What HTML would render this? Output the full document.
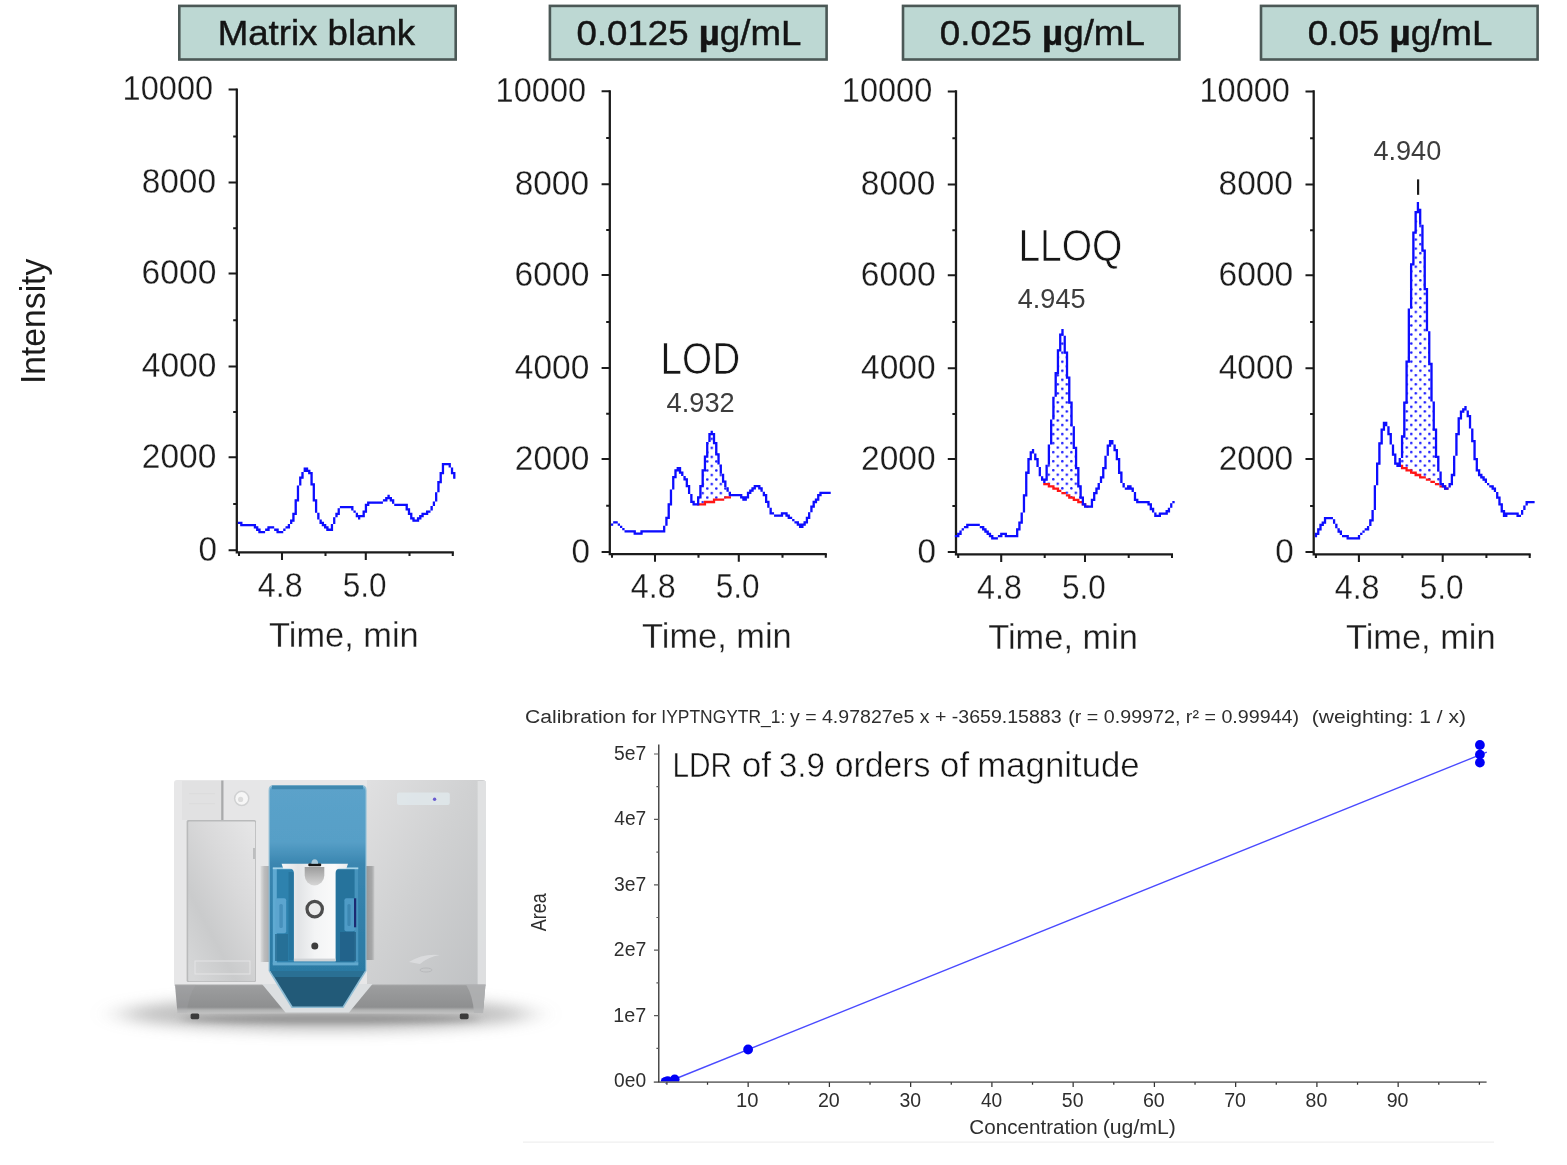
<!DOCTYPE html>
<html lang="en"><head><meta charset="utf-8"><title>LOD / LLOQ chromatograms and calibration curve</title>
<style>
html,body{margin:0;padding:0;background:#fff;}
body{width:1567px;height:1165px;overflow:hidden;}
svg{display:block;font-family:"Liberation Sans",sans-serif;}
svg text{white-space:pre;}
</style></head><body>
<svg width="1567" height="1165" viewBox="0 0 1567 1165">
<rect width="1567" height="1165" fill="#ffffff"/>
<defs>
<filter id="blur12" x="-30%" y="-150%" width="160%" height="400%"><feGaussianBlur stdDeviation="16 7"/></filter>
<filter id="blur4" x="-20%" y="-200%" width="140%" height="500%"><feGaussianBlur stdDeviation="6 3"/></filter>
<filter id="blur2" x="-30%" y="-30%" width="160%" height="160%"><feGaussianBlur stdDeviation="2.2"/></filter>
<filter id="blur1" x="-30%" y="-30%" width="160%" height="160%"><feGaussianBlur stdDeviation="0.8"/></filter>
<linearGradient id="gRight" x1="0" y1="0" x2="1" y2="1"><stop offset="0" stop-color="#e0e0e1"/><stop offset="0.45" stop-color="#d0d1d2"/><stop offset="1" stop-color="#bfc1c3"/></linearGradient>
<linearGradient id="gLeft" x1="0" y1="0" x2="0" y2="1"><stop offset="0" stop-color="#ececec"/><stop offset="1" stop-color="#e2e2e3"/></linearGradient>
<linearGradient id="gDoor" x1="0.9" y1="0" x2="0.1" y2="1"><stop offset="0" stop-color="#e5e5e6"/><stop offset="0.35" stop-color="#d9d9da"/><stop offset="0.7" stop-color="#cacbcc"/><stop offset="1" stop-color="#d6d7d8"/></linearGradient>
<linearGradient id="gBlue" x1="0" y1="0" x2="0" y2="1"><stop offset="0" stop-color="#5ba2ca"/><stop offset="0.3" stop-color="#579fc7"/><stop offset="0.42" stop-color="#3a86b0"/><stop offset="0.8" stop-color="#2f7ea8"/><stop offset="1" stop-color="#2c7aa3"/></linearGradient>
<linearGradient id="gBase" x1="0" y1="0" x2="0" y2="1"><stop offset="0" stop-color="#a8a9aa"/><stop offset="0.06" stop-color="#9c9d9e"/><stop offset="0.78" stop-color="#8e8f90"/><stop offset="0.88" stop-color="#b2b3b3"/><stop offset="1" stop-color="#c2c2c2"/></linearGradient>
<linearGradient id="gSrc" x1="0" y1="0" x2="1" y2="0"><stop offset="0" stop-color="#f4f5f6"/><stop offset="0.25" stop-color="#e2e4e6"/><stop offset="0.5" stop-color="#f3f4f5"/><stop offset="0.8" stop-color="#fafafa"/><stop offset="1" stop-color="#e8eaec"/></linearGradient>
<linearGradient id="gKnob" x1="0" y1="0" x2="0" y2="1"><stop offset="0" stop-color="#9c9c9c"/><stop offset="1" stop-color="#d6d6d6"/></linearGradient>
<linearGradient id="gShR" x1="0" y1="0" x2="1" y2="0"><stop offset="0" stop-color="#8f9091"/><stop offset="0.75" stop-color="#a7a8a9"/><stop offset="1" stop-color="#c9cacb"/></linearGradient>
<linearGradient id="gShL" x1="0" y1="0" x2="1" y2="0"><stop offset="0" stop-color="#dcdddd"/><stop offset="0.4" stop-color="#bcbdbe"/><stop offset="1" stop-color="#a9aaab"/></linearGradient>
<filter id="soft" x="-5%" y="-5%" width="110%" height="110%"><feGaussianBlur stdDeviation="0.55"/></filter>
</defs>
<g>
<!-- floor shadow -->
<ellipse cx="326" cy="1014" rx="205" ry="17" fill="#a3a3a3" opacity="0.68" filter="url(#blur12)"/>
<ellipse cx="330" cy="1019" rx="150" ry="4.5" fill="#787878" opacity="0.62" filter="url(#blur4)"/>
<g filter="url(#soft)">
<!-- body -->
<path d="M174 783Q174 780 177 780H482Q486 780 486 783V986H174Z" fill="#e7e7e8"/>
<rect x="182" y="781" width="39.5" height="39" fill="#e1e1e2"/>
<rect x="223.5" y="781" width="36.5" height="39" fill="#e6e6e7"/>
<rect x="260" y="781" width="9" height="205" fill="#e6e7e8"/>
<rect x="221.2" y="780.5" width="2.3" height="39.5" fill="#a9aaab"/>
<!-- lines in upper-left panel -->
<rect x="189" y="793" width="26" height="1.2" fill="#dcdcdd"/><rect x="189" y="803" width="26" height="1.2" fill="#dcdcdd"/>
<!-- round badge -->
<circle cx="241.7" cy="798.4" r="7.8" fill="#d0d1d2"/><circle cx="241.7" cy="798.4" r="6.3" fill="#f6f6f6"/><circle cx="240.6" cy="799.4" r="2.6" fill="#dcdcdc"/>
<!-- door -->
<rect x="186.6" y="820" width="69.4" height="162" rx="1.5" fill="#b9babb"/>
<rect x="188.2" y="821.6" width="67" height="159.6" rx="1.2" fill="url(#gDoor)"/>
<rect x="253.2" y="848" width="1.6" height="11" fill="#b4b5b6"/>
<rect x="195" y="961" width="55" height="13" fill="none" stroke="#e4e4e5" stroke-width="1"/>
<!-- right panel -->
<path d="M367 780H482Q486 780 486 783V986H367Z" fill="url(#gRight)"/>
<rect x="477.6" y="781" width="8.4" height="205" fill="#e3e4e5" opacity="0.85"/>
<rect x="397" y="792.6" width="52.8" height="12.4" rx="2" fill="#dfe7eb" opacity="0.85"/>
<circle cx="434.6" cy="799.3" r="1.7" fill="#6a5bd0"/>
<!-- shadow beside blue panel -->
<rect x="364" y="866" width="10.5" height="94" fill="url(#gShR)"/>
<rect x="260.5" y="866" width="9.5" height="96" fill="url(#gShL)"/>
<!-- logo hint -->
<path d="M409 962q14 -9 31 -7q-12 2 -20 9z" fill="#dcdddf" opacity="0.9"/>
<ellipse cx="426" cy="970" rx="6" ry="2" fill="none" stroke="#b4b5b7" stroke-width="0.8"/>
<!-- base -->
<path d="M175 984.5H485.5L483 1013.5H177.5Z" fill="url(#gBase)"/>
<path d="M175 984.5H196Q188 996 187 1013H177.5Z" fill="#b3b4b5" opacity="0.18"/><path d="M485.5 984.5H466Q473 996 474 1013H483Z" fill="#b3b4b5" opacity="0.8"/>
<!-- feet -->
<rect x="190.6" y="1013.4" width="8.6" height="5.8" rx="1.6" fill="#3a3a3a"/><rect x="459.8" y="1013.4" width="8.8" height="5.8" rx="1.6" fill="#3a3a3a"/>
<!-- blue centre -->
<path d="M262 984L285.5 1012.5H349L372.5 984Z" fill="#dcdfe1"/>
<path d="M268.6 790Q268.6 785 273.6 785H361Q366.6 785 366.6 790V971L343.5 1008H291.5L268.6 971Z" fill="#8fbdd4"/>
<path d="M269.8 791Q269.8 786.2 274.6 786.2H360Q365.4 786.2 365.4 791V971H269.8Z" fill="url(#gBlue)"/>
<rect x="272" y="785.6" width="91" height="3.6" fill="#3f89b0"/>
<path d="M270.6 971H364.6L342.6 1006.5H292.6Z" fill="#235a78"/>
<path d="M270.6 971H364.6L361 977H274.2Z" fill="#2e79a0" opacity="0.7"/>
<!-- source housing -->
<rect x="272.8" y="867.8" width="85.5" height="96.6" fill="#2e82ae"/>
<rect x="335.6" y="867.8" width="22.7" height="96.6" fill="#27739c"/>
<rect x="272.8" y="867.8" width="4" height="96.6" fill="#5eaad2"/>
<rect x="354.6" y="867.8" width="3.7" height="96.6" fill="#4f9cc6" opacity="0.8"/>
<rect x="272.8" y="867.4" width="85.5" height="1.8" fill="#a5d3e8"/>
<rect x="272.8" y="962.4" width="85.5" height="3" fill="#62a9cd"/>
<rect x="275.4" y="898.3" width="10.8" height="35" rx="2" fill="#5ba5cf"/><rect x="279.4" y="904" width="3.4" height="24" rx="1.5" fill="#4690bb"/>
<rect x="344.4" y="898.3" width="10.8" height="33" rx="2" fill="#4f9bc6"/><rect x="347.4" y="904" width="3.2" height="22" rx="1.5" fill="#3d87b2"/>
<path d="M275 934h13v27h-13z" fill="#24698f" opacity="0.75"/><path d="M340 932h16v29h-16z" fill="#215f85" opacity="0.75"/>
<rect x="354" y="898.3" width="2.2" height="29" fill="#1a2a72"/>
<rect x="288.5" y="872" width="6" height="88" fill="#1f6a93" opacity="0.55"/>
<path d="M281.6 863.8H348L346.4 868.4H340Q335.6 868.6 335.6 873V961.2H293.9V873Q293.9 868.6 289.5 868.4H283.2Z" fill="url(#gSrc)"/>
<rect x="293.9" y="958.6" width="41.7" height="2.6" fill="#cfd3d6"/>
<path d="M304.7 867h19.6v8.6a9.8 9.8 0 0 1 -19.6 0z" fill="url(#gKnob)"/>
<rect x="308.3" y="863.6" width="12.9" height="2.7" rx="1" fill="#141414"/>
<path d="M311.4 863.8q0 -4.6 3.3 -4.6q3.4 0 3.4 4.6z" fill="#a9c9da"/>
<circle cx="314.7" cy="909.1" r="7.7" fill="#ececec" stroke="#4d4d4d" stroke-width="3.2"/>
<circle cx="314.8" cy="946.1" r="3.5" fill="#3c3c3c"/>
</g>
</g>

<rect x="179.30" y="5.90" width="276.40" height="53.60" fill="#bdd8d3" stroke="#4b5856" stroke-width="2.6"/>
<text transform="translate(217.69 45.40) scale(1.0501 1)" font-size="34.90" fill="#141414" stroke="#141414" stroke-width="0.45">Matrix blank</text>
<rect x="549.90" y="5.90" width="276.70" height="53.60" fill="#bdd8d3" stroke="#4b5856" stroke-width="2.6"/>
<text transform="translate(576.57 45.40) scale(1.0495 1)" font-size="34.90" fill="#141414" stroke="#141414" stroke-width="0.45">0.0125 <tspan font-weight="700">µ</tspan>g/mL</text>
<rect x="903.00" y="5.90" width="276.40" height="53.60" fill="#bdd8d3" stroke="#4b5856" stroke-width="2.6"/>
<text transform="translate(939.86 45.40) scale(1.0530 1)" font-size="34.90" fill="#141414" stroke="#141414" stroke-width="0.45">0.025 <tspan font-weight="700">µ</tspan>g/mL</text>
<rect x="1261.00" y="5.90" width="276.60" height="53.60" fill="#bdd8d3" stroke="#4b5856" stroke-width="2.6"/>
<text transform="translate(1307.76 45.40) scale(1.0533 1)" font-size="34.90" fill="#141414" stroke="#141414" stroke-width="0.45">0.05 <tspan font-weight="700">µ</tspan>g/mL</text>
<defs><filter id="px" x="-2%" y="-2%" width="104%" height="104%"><feGaussianBlur stdDeviation="0.5"/></filter><filter id="sf" x="-2%" y="-2%" width="104%" height="104%"><feGaussianBlur stdDeviation="0.4"/></filter>
<pattern id="dots1" x="710.51" y="446.65" width="9.04" height="9.04" patternUnits="userSpaceOnUse"><circle cx="1.25" cy="1.25" r="1.25" fill="#1414ff"/><circle cx="5.77" cy="5.77" r="1.25" fill="#1414ff"/></pattern>
<pattern id="dots2" x="1061.05" y="351.45" width="9.04" height="9.04" patternUnits="userSpaceOnUse"><circle cx="1.25" cy="1.25" r="1.25" fill="#1414ff"/><circle cx="5.77" cy="5.77" r="1.25" fill="#1414ff"/></pattern>
<pattern id="dots3" x="1414.55" y="346.85" width="9.04" height="9.04" patternUnits="userSpaceOnUse"><circle cx="1.25" cy="1.25" r="1.25" fill="#1414ff"/><circle cx="5.77" cy="5.77" r="1.25" fill="#1414ff"/></pattern>
</defs>
<g filter="url(#sf)"><path d="M236.80 88.47V552.40H453.80" fill="none" stroke="#1a1a1a" stroke-width="2.26"/><path d="M228.60 89.60H236.80M233.20 136.40H236.80M228.60 182.60H236.80M233.20 228.30H236.80M228.60 273.40H236.80M233.20 320.20H236.80M228.60 366.40H236.80M233.20 412.10H236.80M228.60 457.20H236.80M233.20 504.00H236.80M228.60 550.20H236.80M239.00 552.40V556.00M282.00 552.40V560.00M325.50 552.40V556.00M365.80 552.40V560.00M409.50 552.40V556.00M452.80 552.40V556.00" fill="none" stroke="#1a1a1a" stroke-width="2.03"/><text transform="translate(122.62 100.20) scale(0.9214 1)" font-size="35.30" fill="#1c1c1c" stroke="#fff" stroke-width="0.3">10000</text><text transform="translate(141.65 193.20) scale(0.9482 1)" font-size="35.30" fill="#1c1c1c" stroke="#fff" stroke-width="0.3">8000</text><text transform="translate(141.59 284.00) scale(0.9528 1)" font-size="35.30" fill="#1c1c1c" stroke="#fff" stroke-width="0.3">6000</text><text transform="translate(141.83 377.00) scale(0.9497 1)" font-size="35.30" fill="#1c1c1c" stroke="#fff" stroke-width="0.3">4000</text><text transform="translate(141.81 467.80) scale(0.9499 1)" font-size="35.30" fill="#1c1c1c" stroke="#fff" stroke-width="0.3">2000</text><text transform="translate(198.40 560.80) scale(0.9423 1)" font-size="35.30" fill="#1c1c1c" stroke="#fff" stroke-width="0.3">0</text><text transform="translate(257.76 596.70) scale(0.9159 1)" font-size="35.30" fill="#1c1c1c" stroke="#fff" stroke-width="0.3">4.8</text><text transform="translate(342.84 596.70) scale(0.8924 1)" font-size="35.30" fill="#1c1c1c" stroke="#fff" stroke-width="0.3">5.0</text><text transform="translate(269.03 646.70) scale(0.9802 1)" font-size="35.10" fill="#1c1c1c" stroke="#fff" stroke-width="0.3">Time, min</text><path d="M237.93 521.82h2.27v2.27h-2.27zM240.20 521.82h2.27v4.53h-2.27zM242.46 524.08h2.27v2.27h-2.27zM244.73 524.08h2.27v2.27h-2.27zM246.99 524.08h2.27v2.27h-2.27zM249.26 524.08h2.27v2.27h-2.27zM251.53 524.08h2.27v2.27h-2.27zM253.79 524.08h2.27v4.53h-2.27zM256.06 526.35h2.27v4.53h-2.27zM258.32 528.61h2.27v4.53h-2.27zM260.59 530.88h2.27v2.27h-2.27zM262.85 530.88h2.27v2.27h-2.27zM265.12 528.61h2.27v2.27h-2.27zM267.38 526.35h2.27v4.53h-2.27zM269.65 526.35h2.27v2.27h-2.27zM271.92 526.35h2.27v2.27h-2.27zM274.18 528.61h2.27v2.27h-2.27zM276.45 528.61h2.27v4.53h-2.27zM278.71 530.88h2.27v2.27h-2.27zM280.98 530.88h2.27v2.27h-2.27zM283.24 528.61h2.27v2.27h-2.27zM285.51 526.35h2.27v2.27h-2.27zM287.77 524.08h2.27v4.53h-2.27zM290.04 519.55h2.27v4.53h-2.27zM292.30 512.75h2.27v9.06h-2.27zM294.57 499.16h2.27v15.86h-2.27zM296.84 485.57h2.27v15.86h-2.27zM299.10 476.51h2.27v9.06h-2.27zM301.37 471.97h2.27v6.80h-2.27zM303.63 467.44h2.27v4.53h-2.27zM305.90 467.44h2.27v4.53h-2.27zM308.16 469.71h2.27v4.53h-2.27zM310.43 471.97h2.27v13.59h-2.27zM312.69 483.30h2.27v18.12h-2.27zM314.96 499.16h2.27v13.59h-2.27zM317.23 512.75h2.27v6.80h-2.27zM319.49 519.55h2.27v4.53h-2.27zM321.76 521.82h2.27v4.53h-2.27zM324.02 524.08h2.27v4.53h-2.27zM326.29 526.35h2.27v4.53h-2.27zM328.55 528.61h2.27v2.27h-2.27zM330.82 524.08h2.27v6.80h-2.27zM333.08 517.28h2.27v6.80h-2.27zM335.35 512.75h2.27v4.53h-2.27zM337.61 508.22h2.27v6.80h-2.27zM339.88 505.96h2.27v2.27h-2.27zM342.15 505.96h2.27v2.27h-2.27zM344.41 505.96h2.27v2.27h-2.27zM346.68 505.96h2.27v2.27h-2.27zM348.94 505.96h2.27v2.27h-2.27zM351.21 505.96h2.27v4.53h-2.27zM353.47 510.49h2.27v2.27h-2.27zM355.74 512.75h2.27v4.53h-2.27zM358.00 515.02h2.27v4.53h-2.27zM360.27 515.02h2.27v2.27h-2.27zM362.54 510.49h2.27v6.80h-2.27zM364.80 503.69h2.27v9.06h-2.27zM367.07 501.43h2.27v4.53h-2.27zM369.33 501.43h2.27v2.27h-2.27zM371.60 501.43h2.27v2.27h-2.27zM373.86 501.43h2.27v2.27h-2.27zM376.13 501.43h2.27v2.27h-2.27zM378.39 501.43h2.27v2.27h-2.27zM380.66 501.43h2.27v2.27h-2.27zM382.92 499.16h2.27v2.27h-2.27zM385.19 496.90h2.27v4.53h-2.27zM387.46 494.63h2.27v4.53h-2.27zM389.72 496.90h2.27v4.53h-2.27zM391.99 499.16h2.27v4.53h-2.27zM394.25 503.69h2.27v2.27h-2.27zM396.52 503.69h2.27v2.27h-2.27zM398.78 503.69h2.27v2.27h-2.27zM401.05 503.69h2.27v2.27h-2.27zM403.31 503.69h2.27v2.27h-2.27zM405.58 503.69h2.27v6.80h-2.27zM407.85 508.22h2.27v6.80h-2.27zM410.11 512.75h2.27v6.80h-2.27zM412.38 517.28h2.27v4.53h-2.27zM414.64 519.55h2.27v2.27h-2.27zM416.91 517.28h2.27v4.53h-2.27zM419.17 515.02h2.27v4.53h-2.27zM421.44 512.75h2.27v4.53h-2.27zM423.70 512.75h2.27v2.27h-2.27zM425.97 510.49h2.27v4.53h-2.27zM428.23 510.49h2.27v2.27h-2.27zM430.50 505.96h2.27v4.53h-2.27zM432.77 501.43h2.27v4.53h-2.27zM435.03 492.36h2.27v9.06h-2.27zM437.30 481.04h2.27v11.33h-2.27zM439.56 471.97h2.27v11.33h-2.27zM441.83 462.91h2.27v11.33h-2.27zM444.09 462.91h2.27v2.27h-2.27zM446.36 462.91h2.27v2.27h-2.27zM448.62 462.91h2.27v4.53h-2.27zM450.89 467.44h2.27v6.80h-2.27zM453.16 471.97h2.27v6.80h-2.27z" fill="#0808ff"/></g>
<g filter="url(#sf)"><path d="M609.80 90.17V554.10H826.80" fill="none" stroke="#1a1a1a" stroke-width="2.26"/><path d="M601.60 91.30H609.80M606.20 138.10H609.80M601.60 184.30H609.80M606.20 230.00H609.80M601.60 275.10H609.80M606.20 321.90H609.80M601.60 368.10H609.80M606.20 413.80H609.80M601.60 458.90H609.80M606.20 505.70H609.80M601.60 551.90H609.80M612.00 554.10V557.70M655.00 554.10V561.70M698.50 554.10V557.70M738.80 554.10V561.70M782.50 554.10V557.70M825.80 554.10V557.70" fill="none" stroke="#1a1a1a" stroke-width="2.03"/><text transform="translate(495.62 101.90) scale(0.9214 1)" font-size="35.30" fill="#1c1c1c" stroke="#fff" stroke-width="0.3">10000</text><text transform="translate(514.65 194.90) scale(0.9482 1)" font-size="35.30" fill="#1c1c1c" stroke="#fff" stroke-width="0.3">8000</text><text transform="translate(514.59 285.70) scale(0.9528 1)" font-size="35.30" fill="#1c1c1c" stroke="#fff" stroke-width="0.3">6000</text><text transform="translate(514.83 378.70) scale(0.9497 1)" font-size="35.30" fill="#1c1c1c" stroke="#fff" stroke-width="0.3">4000</text><text transform="translate(514.81 469.50) scale(0.9499 1)" font-size="35.30" fill="#1c1c1c" stroke="#fff" stroke-width="0.3">2000</text><text transform="translate(571.40 562.50) scale(0.9423 1)" font-size="35.30" fill="#1c1c1c" stroke="#fff" stroke-width="0.3">0</text><text transform="translate(630.76 598.40) scale(0.9159 1)" font-size="35.30" fill="#1c1c1c" stroke="#fff" stroke-width="0.3">4.8</text><text transform="translate(715.84 598.40) scale(0.8924 1)" font-size="35.30" fill="#1c1c1c" stroke="#fff" stroke-width="0.3">5.0</text><text transform="translate(642.03 648.40) scale(0.9802 1)" font-size="35.10" fill="#1c1c1c" stroke="#fff" stroke-width="0.3">Time, min</text><polygon points="697.2,504.6 697.3,504.4 699.5,497.0 701.6,486.0 703.7,472.0 706.2,456.0 708.2,442.0 710.0,435.0 711.8,431.0 714.3,438.0 716.5,450.0 718.6,460.0 721.0,470.0 723.3,477.5 725.5,485.0 727.6,490.0 730.0,497.4" fill="url(#dots1)"/><path d="M697.02 503.13h2.27v2.27h-2.27zM699.29 503.13h2.27v2.27h-2.27zM701.55 503.13h2.27v2.27h-2.27zM703.82 500.86h2.27v4.53h-2.27zM706.08 500.86h2.27v2.27h-2.27zM708.35 500.86h2.27v2.27h-2.27zM710.61 500.86h2.27v2.27h-2.27zM712.88 498.60h2.27v4.53h-2.27zM715.15 498.60h2.27v2.27h-2.27zM717.41 498.60h2.27v2.27h-2.27zM719.68 498.60h2.27v2.27h-2.27zM721.94 498.60h2.27v2.27h-2.27zM724.21 496.33h2.27v2.27h-2.27zM726.47 496.33h2.27v2.27h-2.27zM728.74 496.33h2.27v2.27h-2.27z" fill="#ff1414"/><path d="M610.93 523.52h2.27v2.27h-2.27zM613.20 521.25h2.27v2.27h-2.27zM615.46 521.25h2.27v2.27h-2.27zM617.73 523.52h2.27v2.27h-2.27zM619.99 525.78h2.27v2.27h-2.27zM622.26 528.05h2.27v2.27h-2.27zM624.53 530.31h2.27v2.27h-2.27zM626.79 530.31h2.27v2.27h-2.27zM629.06 530.31h2.27v2.27h-2.27zM631.32 530.31h2.27v2.27h-2.27zM633.59 530.31h2.27v4.53h-2.27zM635.85 532.58h2.27v2.27h-2.27zM638.12 532.58h2.27v2.27h-2.27zM640.38 530.31h2.27v4.53h-2.27zM642.65 530.31h2.27v2.27h-2.27zM644.92 530.31h2.27v2.27h-2.27zM647.18 530.31h2.27v2.27h-2.27zM649.45 530.31h2.27v2.27h-2.27zM651.71 530.31h2.27v2.27h-2.27zM653.98 530.31h2.27v2.27h-2.27zM656.24 530.31h2.27v2.27h-2.27zM658.51 530.31h2.27v2.27h-2.27zM660.77 530.31h2.27v2.27h-2.27zM663.04 525.78h2.27v6.80h-2.27zM665.30 516.72h2.27v9.06h-2.27zM667.57 503.13h2.27v15.86h-2.27zM669.84 489.53h2.27v15.86h-2.27zM672.10 475.94h2.27v13.59h-2.27zM674.37 469.14h2.27v9.06h-2.27zM676.63 466.88h2.27v4.53h-2.27zM678.90 466.88h2.27v6.80h-2.27zM681.16 471.41h2.27v4.53h-2.27zM683.43 475.94h2.27v4.53h-2.27zM685.69 478.21h2.27v9.06h-2.27zM687.96 485.00h2.27v9.06h-2.27zM690.23 494.06h2.27v9.06h-2.27zM692.49 500.86h2.27v4.53h-2.27zM694.76 503.13h2.27v2.27h-2.27zM697.02 496.33h2.27v9.06h-2.27zM699.29 485.00h2.27v13.59h-2.27zM701.55 469.14h2.27v18.12h-2.27zM703.82 455.55h2.27v15.86h-2.27zM706.08 441.96h2.27v15.86h-2.27zM708.35 432.90h2.27v9.06h-2.27zM710.61 430.63h2.27v4.53h-2.27zM712.88 432.90h2.27v11.33h-2.27zM715.15 441.96h2.27v13.59h-2.27zM717.41 453.29h2.27v11.33h-2.27zM719.68 464.61h2.27v9.06h-2.27zM721.94 473.67h2.27v9.06h-2.27zM724.21 480.47h2.27v6.80h-2.27zM726.47 487.27h2.27v4.53h-2.27zM728.74 491.80h2.27v4.53h-2.27zM731.00 494.06h2.27v2.27h-2.27zM733.27 494.06h2.27v2.27h-2.27zM735.54 494.06h2.27v2.27h-2.27zM737.80 494.06h2.27v2.27h-2.27zM740.07 494.06h2.27v4.53h-2.27zM742.33 496.33h2.27v4.53h-2.27zM744.60 496.33h2.27v4.53h-2.27zM746.86 491.80h2.27v6.80h-2.27zM749.13 489.53h2.27v4.53h-2.27zM751.39 487.27h2.27v4.53h-2.27zM753.66 485.00h2.27v4.53h-2.27zM755.92 485.00h2.27v2.27h-2.27zM758.19 485.00h2.27v4.53h-2.27zM760.46 487.27h2.27v4.53h-2.27zM762.72 491.80h2.27v4.53h-2.27zM764.99 494.06h2.27v9.06h-2.27zM767.25 500.86h2.27v6.80h-2.27zM769.52 507.66h2.27v6.80h-2.27zM771.78 512.19h2.27v2.27h-2.27zM774.05 514.45h2.27v2.27h-2.27zM776.31 514.45h2.27v2.27h-2.27zM778.58 514.45h2.27v2.27h-2.27zM780.85 512.19h2.27v4.53h-2.27zM783.11 512.19h2.27v2.27h-2.27zM785.38 512.19h2.27v4.53h-2.27zM787.64 514.45h2.27v4.53h-2.27zM789.91 516.72h2.27v2.27h-2.27zM792.17 518.98h2.27v2.27h-2.27zM794.44 521.25h2.27v2.27h-2.27zM796.70 521.25h2.27v4.53h-2.27zM798.97 523.52h2.27v4.53h-2.27zM801.23 523.52h2.27v4.53h-2.27zM803.50 521.25h2.27v4.53h-2.27zM805.77 516.72h2.27v6.80h-2.27zM808.03 512.19h2.27v6.80h-2.27zM810.30 505.39h2.27v6.80h-2.27zM812.56 500.86h2.27v6.80h-2.27zM814.83 498.60h2.27v4.53h-2.27zM817.09 494.06h2.27v6.80h-2.27zM819.36 491.80h2.27v4.53h-2.27zM821.62 491.80h2.27v2.27h-2.27zM823.89 491.80h2.27v2.27h-2.27zM826.16 491.80h2.27v2.27h-2.27zM828.42 491.80h2.27v2.27h-2.27z" fill="#0808ff"/></g>
<g filter="url(#sf)"><path d="M956.00 90.37V554.30H1173.00" fill="none" stroke="#1a1a1a" stroke-width="2.26"/><path d="M947.80 91.50H956.00M952.40 138.30H956.00M947.80 184.50H956.00M952.40 230.20H956.00M947.80 275.30H956.00M952.40 322.10H956.00M947.80 368.30H956.00M952.40 414.00H956.00M947.80 459.10H956.00M952.40 505.90H956.00M947.80 552.10H956.00M958.20 554.30V557.90M1001.20 554.30V561.90M1044.70 554.30V557.90M1085.00 554.30V561.90M1128.70 554.30V557.90M1172.00 554.30V557.90" fill="none" stroke="#1a1a1a" stroke-width="2.03"/><text transform="translate(841.82 102.10) scale(0.9214 1)" font-size="35.30" fill="#1c1c1c" stroke="#fff" stroke-width="0.3">10000</text><text transform="translate(860.85 195.10) scale(0.9482 1)" font-size="35.30" fill="#1c1c1c" stroke="#fff" stroke-width="0.3">8000</text><text transform="translate(860.79 285.90) scale(0.9528 1)" font-size="35.30" fill="#1c1c1c" stroke="#fff" stroke-width="0.3">6000</text><text transform="translate(861.03 378.90) scale(0.9497 1)" font-size="35.30" fill="#1c1c1c" stroke="#fff" stroke-width="0.3">4000</text><text transform="translate(861.01 469.70) scale(0.9499 1)" font-size="35.30" fill="#1c1c1c" stroke="#fff" stroke-width="0.3">2000</text><text transform="translate(917.60 562.70) scale(0.9423 1)" font-size="35.30" fill="#1c1c1c" stroke="#fff" stroke-width="0.3">0</text><text transform="translate(976.96 598.60) scale(0.9159 1)" font-size="35.30" fill="#1c1c1c" stroke="#fff" stroke-width="0.3">4.8</text><text transform="translate(1062.04 598.60) scale(0.8924 1)" font-size="35.30" fill="#1c1c1c" stroke="#fff" stroke-width="0.3">5.0</text><text transform="translate(988.23 648.60) scale(0.9802 1)" font-size="35.10" fill="#1c1c1c" stroke="#fff" stroke-width="0.3">Time, min</text><polygon points="1045.4,483.2 1045.7,479.6 1048.8,456.7 1051.1,433.7 1053.0,412.0 1055.4,389.0 1057.8,362.0 1060.1,341.0 1062.3,328.9 1064.9,342.0 1066.9,363.0 1069.3,392.0 1071.7,414.0 1073.3,433.7 1077.9,475.0 1081.0,496.5 1084.0,504.0 1086.4,505.6" fill="url(#dots2)"/><path d="M1043.22 482.94h2.27v2.27h-2.27zM1045.49 482.94h2.27v2.27h-2.27zM1047.75 482.94h2.27v4.53h-2.27zM1050.02 485.20h2.27v2.27h-2.27zM1052.28 485.20h2.27v4.53h-2.27zM1054.55 487.47h2.27v2.27h-2.27zM1056.81 487.47h2.27v4.53h-2.27zM1059.08 489.73h2.27v2.27h-2.27zM1061.35 492.00h2.27v2.27h-2.27zM1063.61 492.00h2.27v2.27h-2.27zM1065.88 494.26h2.27v2.27h-2.27zM1068.14 494.26h2.27v4.53h-2.27zM1070.41 496.53h2.27v2.27h-2.27zM1072.67 496.53h2.27v4.53h-2.27zM1074.94 498.80h2.27v2.27h-2.27zM1077.20 498.80h2.27v4.53h-2.27zM1079.47 501.06h2.27v2.27h-2.27zM1081.74 501.06h2.27v4.53h-2.27zM1084.00 503.33h2.27v2.27h-2.27zM1086.27 505.59h2.27v2.27h-2.27z" fill="#ff1414"/><path d="M954.87 535.04h2.27v2.27h-2.27zM957.13 532.78h2.27v4.53h-2.27zM959.40 530.51h2.27v4.53h-2.27zM961.66 528.25h2.27v2.27h-2.27zM963.93 525.98h2.27v2.27h-2.27zM966.19 523.72h2.27v4.53h-2.27zM968.46 523.72h2.27v2.27h-2.27zM970.73 523.72h2.27v2.27h-2.27zM972.99 523.72h2.27v2.27h-2.27zM975.26 523.72h2.27v2.27h-2.27zM977.52 523.72h2.27v2.27h-2.27zM979.79 525.98h2.27v2.27h-2.27zM982.05 525.98h2.27v4.53h-2.27zM984.32 528.25h2.27v4.53h-2.27zM986.58 530.51h2.27v4.53h-2.27zM988.85 532.78h2.27v4.53h-2.27zM991.12 535.04h2.27v4.53h-2.27zM993.38 537.31h2.27v2.27h-2.27zM995.65 537.31h2.27v2.27h-2.27zM997.91 535.04h2.27v2.27h-2.27zM1000.18 532.78h2.27v4.53h-2.27zM1002.44 532.78h2.27v2.27h-2.27zM1004.71 532.78h2.27v4.53h-2.27zM1006.97 535.04h2.27v2.27h-2.27zM1009.24 535.04h2.27v2.27h-2.27zM1011.50 535.04h2.27v2.27h-2.27zM1013.77 535.04h2.27v2.27h-2.27zM1016.04 528.25h2.27v9.06h-2.27zM1018.30 521.45h2.27v9.06h-2.27zM1020.57 512.39h2.27v11.33h-2.27zM1022.83 494.26h2.27v18.12h-2.27zM1025.10 471.61h2.27v24.92h-2.27zM1027.36 458.02h2.27v15.86h-2.27zM1029.63 451.22h2.27v9.06h-2.27zM1031.89 448.95h2.27v4.53h-2.27zM1034.16 453.49h2.27v6.80h-2.27zM1036.43 458.02h2.27v9.06h-2.27zM1038.69 467.08h2.27v9.06h-2.27zM1040.96 476.14h2.27v4.53h-2.27zM1043.22 478.41h2.27v4.53h-2.27zM1045.49 464.81h2.27v15.86h-2.27zM1047.75 444.42h2.27v20.39h-2.27zM1050.02 419.50h2.27v24.92h-2.27zM1052.28 396.85h2.27v22.65h-2.27zM1054.55 371.93h2.27v24.92h-2.27zM1056.81 349.27h2.27v24.92h-2.27zM1059.08 333.41h2.27v18.12h-2.27zM1061.35 328.88h2.27v6.80h-2.27zM1063.61 335.68h2.27v18.12h-2.27zM1065.88 351.54h2.27v27.19h-2.27zM1068.14 376.46h2.27v27.19h-2.27zM1070.41 401.38h2.27v24.92h-2.27zM1072.67 426.30h2.27v22.65h-2.27zM1074.94 446.69h2.27v22.65h-2.27zM1077.20 467.08h2.27v20.39h-2.27zM1079.47 485.20h2.27v13.59h-2.27zM1081.74 496.53h2.27v9.06h-2.27zM1084.00 503.33h2.27v4.53h-2.27zM1086.27 505.59h2.27v2.27h-2.27zM1088.53 505.59h2.27v2.27h-2.27zM1090.80 498.80h2.27v9.06h-2.27zM1093.06 492.00h2.27v9.06h-2.27zM1095.33 487.47h2.27v6.80h-2.27zM1097.59 482.94h2.27v6.80h-2.27zM1099.86 476.14h2.27v6.80h-2.27zM1102.12 467.08h2.27v11.33h-2.27zM1104.39 455.75h2.27v13.59h-2.27zM1106.66 444.42h2.27v11.33h-2.27zM1108.92 439.89h2.27v6.80h-2.27zM1111.19 439.89h2.27v4.53h-2.27zM1113.45 444.42h2.27v6.80h-2.27zM1115.72 448.95h2.27v11.33h-2.27zM1117.98 458.02h2.27v15.86h-2.27zM1120.25 471.61h2.27v11.33h-2.27zM1122.51 482.94h2.27v4.53h-2.27zM1124.78 487.47h2.27v2.27h-2.27zM1127.05 485.20h2.27v4.53h-2.27zM1129.31 485.20h2.27v4.53h-2.27zM1131.58 487.47h2.27v4.53h-2.27zM1133.84 492.00h2.27v9.06h-2.27zM1136.11 498.80h2.27v4.53h-2.27zM1138.37 501.06h2.27v2.27h-2.27zM1140.64 501.06h2.27v2.27h-2.27zM1142.90 501.06h2.27v2.27h-2.27zM1145.17 501.06h2.27v2.27h-2.27zM1147.43 501.06h2.27v4.53h-2.27zM1149.70 503.33h2.27v6.80h-2.27zM1151.97 507.86h2.27v4.53h-2.27zM1154.23 512.39h2.27v4.53h-2.27zM1156.50 514.65h2.27v2.27h-2.27zM1158.76 512.39h2.27v4.53h-2.27zM1161.03 512.39h2.27v2.27h-2.27zM1163.29 512.39h2.27v2.27h-2.27zM1165.56 510.12h2.27v4.53h-2.27zM1167.82 507.86h2.27v4.53h-2.27zM1170.09 503.33h2.27v4.53h-2.27zM1172.36 501.06h2.27v2.27h-2.27z" fill="#0808ff"/></g>
<g filter="url(#sf)"><path d="M1313.70 90.37V554.30H1530.70" fill="none" stroke="#1a1a1a" stroke-width="2.26"/><path d="M1305.50 91.50H1313.70M1310.10 138.30H1313.70M1305.50 184.50H1313.70M1310.10 230.20H1313.70M1305.50 275.30H1313.70M1310.10 322.10H1313.70M1305.50 368.30H1313.70M1310.10 414.00H1313.70M1305.50 459.10H1313.70M1310.10 505.90H1313.70M1305.50 552.10H1313.70M1315.90 554.30V557.90M1358.90 554.30V561.90M1402.40 554.30V557.90M1442.70 554.30V561.90M1486.40 554.30V557.90M1529.70 554.30V557.90" fill="none" stroke="#1a1a1a" stroke-width="2.03"/><text transform="translate(1199.52 102.10) scale(0.9214 1)" font-size="35.30" fill="#1c1c1c" stroke="#fff" stroke-width="0.3">10000</text><text transform="translate(1218.55 195.10) scale(0.9482 1)" font-size="35.30" fill="#1c1c1c" stroke="#fff" stroke-width="0.3">8000</text><text transform="translate(1218.49 285.90) scale(0.9528 1)" font-size="35.30" fill="#1c1c1c" stroke="#fff" stroke-width="0.3">6000</text><text transform="translate(1218.73 378.90) scale(0.9497 1)" font-size="35.30" fill="#1c1c1c" stroke="#fff" stroke-width="0.3">4000</text><text transform="translate(1218.71 469.70) scale(0.9499 1)" font-size="35.30" fill="#1c1c1c" stroke="#fff" stroke-width="0.3">2000</text><text transform="translate(1275.30 562.70) scale(0.9423 1)" font-size="35.30" fill="#1c1c1c" stroke="#fff" stroke-width="0.3">0</text><text transform="translate(1334.66 598.60) scale(0.9159 1)" font-size="35.30" fill="#1c1c1c" stroke="#fff" stroke-width="0.3">4.8</text><text transform="translate(1419.74 598.60) scale(0.8924 1)" font-size="35.30" fill="#1c1c1c" stroke="#fff" stroke-width="0.3">5.0</text><text transform="translate(1345.93 648.60) scale(0.9802 1)" font-size="35.10" fill="#1c1c1c" stroke="#fff" stroke-width="0.3">Time, min</text><polygon points="1398.7,465.5 1400.3,462.0 1402.3,448.7 1404.2,422.1 1406.6,386.5 1408.6,341.7 1410.6,293.9 1412.9,251.5 1415.5,220.9 1418.1,202.1 1420.8,219.4 1423.4,248.0 1425.8,288.0 1427.9,327.5 1430.3,363.4 1432.3,397.4 1434.8,429.0 1437.2,456.6 1441.2,484.3 1447.1,488.8" fill="url(#dots3)"/><path d="M1398.66 464.81h2.27v2.27h-2.27zM1400.92 464.81h2.27v4.53h-2.27zM1403.19 467.08h2.27v2.27h-2.27zM1405.45 467.08h2.27v4.53h-2.27zM1407.72 469.34h2.27v2.27h-2.27zM1409.98 469.34h2.27v4.53h-2.27zM1412.25 471.61h2.27v2.27h-2.27zM1414.51 471.61h2.27v4.53h-2.27zM1416.78 473.87h2.27v2.27h-2.27zM1419.05 473.87h2.27v4.53h-2.27zM1421.31 476.14h2.27v2.27h-2.27zM1423.58 476.14h2.27v2.27h-2.27zM1425.84 478.41h2.27v2.27h-2.27zM1428.11 478.41h2.27v2.27h-2.27zM1430.37 480.67h2.27v2.27h-2.27zM1432.64 480.67h2.27v2.27h-2.27zM1434.90 482.94h2.27v2.27h-2.27zM1437.17 482.94h2.27v2.27h-2.27zM1439.44 485.20h2.27v2.27h-2.27zM1441.70 485.20h2.27v2.27h-2.27zM1443.97 485.20h2.27v4.53h-2.27zM1446.23 487.47h2.27v2.27h-2.27z" fill="#ff1414"/><path d="M1314.83 532.78h2.27v4.53h-2.27zM1317.10 528.25h2.27v6.80h-2.27zM1319.36 523.72h2.27v6.80h-2.27zM1321.63 521.45h2.27v4.53h-2.27zM1323.89 516.92h2.27v6.80h-2.27zM1326.16 516.92h2.27v2.27h-2.27zM1328.43 516.92h2.27v2.27h-2.27zM1330.69 516.92h2.27v2.27h-2.27zM1332.96 519.18h2.27v4.53h-2.27zM1335.22 523.72h2.27v4.53h-2.27zM1337.49 528.25h2.27v4.53h-2.27zM1339.75 530.51h2.27v4.53h-2.27zM1342.02 535.04h2.27v2.27h-2.27zM1344.28 535.04h2.27v2.27h-2.27zM1346.55 535.04h2.27v4.53h-2.27zM1348.82 537.31h2.27v2.27h-2.27zM1351.08 537.31h2.27v2.27h-2.27zM1353.35 537.31h2.27v2.27h-2.27zM1355.61 537.31h2.27v2.27h-2.27zM1357.88 535.04h2.27v4.53h-2.27zM1360.14 532.78h2.27v2.27h-2.27zM1362.41 530.51h2.27v2.27h-2.27zM1364.67 528.25h2.27v2.27h-2.27zM1366.94 525.98h2.27v4.53h-2.27zM1369.20 519.18h2.27v6.80h-2.27zM1371.47 510.12h2.27v11.33h-2.27zM1373.74 485.20h2.27v24.92h-2.27zM1376.00 462.55h2.27v22.65h-2.27zM1378.27 442.16h2.27v22.65h-2.27zM1380.53 428.56h2.27v15.86h-2.27zM1382.80 421.77h2.27v9.06h-2.27zM1385.06 421.77h2.27v4.53h-2.27zM1387.33 426.30h2.27v9.06h-2.27zM1389.59 433.10h2.27v11.33h-2.27zM1391.86 444.42h2.27v11.33h-2.27zM1394.13 453.49h2.27v11.33h-2.27zM1396.39 462.55h2.27v4.53h-2.27zM1398.66 458.02h2.27v9.06h-2.27zM1400.92 435.36h2.27v22.65h-2.27zM1403.19 401.38h2.27v36.25h-2.27zM1405.45 360.60h2.27v43.04h-2.27zM1407.72 308.49h2.27v54.37h-2.27zM1409.98 263.18h2.27v45.31h-2.27zM1412.25 231.47h2.27v33.98h-2.27zM1414.51 211.08h2.27v22.65h-2.27zM1416.78 202.01h2.27v11.33h-2.27zM1419.05 208.81h2.27v15.86h-2.27zM1421.31 224.67h2.27v27.19h-2.27zM1423.58 249.59h2.27v40.78h-2.27zM1425.84 288.10h2.27v43.04h-2.27zM1428.11 331.15h2.27v33.98h-2.27zM1430.37 362.87h2.27v38.51h-2.27zM1432.64 401.38h2.27v29.45h-2.27zM1434.90 428.56h2.27v29.45h-2.27zM1437.17 455.75h2.27v15.86h-2.27zM1439.44 471.61h2.27v13.59h-2.27zM1441.70 482.94h2.27v4.53h-2.27zM1443.97 485.20h2.27v4.53h-2.27zM1446.23 487.47h2.27v2.27h-2.27zM1448.50 482.94h2.27v4.53h-2.27zM1450.76 473.87h2.27v11.33h-2.27zM1453.03 455.75h2.27v20.39h-2.27zM1455.29 433.10h2.27v22.65h-2.27zM1457.56 417.24h2.27v18.12h-2.27zM1459.82 410.44h2.27v9.06h-2.27zM1462.09 408.18h2.27v4.53h-2.27zM1464.36 405.91h2.27v4.53h-2.27zM1466.62 410.44h2.27v6.80h-2.27zM1468.89 414.97h2.27v13.59h-2.27zM1471.15 428.56h2.27v13.59h-2.27zM1473.42 439.89h2.27v20.39h-2.27zM1475.68 458.02h2.27v13.59h-2.27zM1477.95 469.34h2.27v6.80h-2.27zM1480.21 473.87h2.27v4.53h-2.27zM1482.48 476.14h2.27v4.53h-2.27zM1484.75 478.41h2.27v4.53h-2.27zM1487.01 482.94h2.27v2.27h-2.27zM1489.28 485.20h2.27v2.27h-2.27zM1491.54 485.20h2.27v4.53h-2.27zM1493.81 487.47h2.27v4.53h-2.27zM1496.07 492.00h2.27v6.80h-2.27zM1498.34 496.53h2.27v9.06h-2.27zM1500.60 503.33h2.27v9.06h-2.27zM1502.87 510.12h2.27v6.80h-2.27zM1505.13 512.39h2.27v4.53h-2.27zM1507.40 512.39h2.27v2.27h-2.27zM1509.67 512.39h2.27v2.27h-2.27zM1511.93 512.39h2.27v2.27h-2.27zM1514.20 512.39h2.27v2.27h-2.27zM1516.46 512.39h2.27v4.53h-2.27zM1518.73 514.65h2.27v2.27h-2.27zM1520.99 510.12h2.27v4.53h-2.27zM1523.26 505.59h2.27v4.53h-2.27zM1525.52 501.06h2.27v4.53h-2.27zM1527.79 501.06h2.27v2.27h-2.27zM1530.06 501.06h2.27v2.27h-2.27zM1532.32 501.06h2.27v2.27h-2.27z" fill="#0808ff"/></g>
<g filter="url(#sf)">
<text transform="translate(45.00 384.11) rotate(-90) scale(0.9823 1)" font-size="34.30" fill="#1c1c1c">Intensity</text>
<text transform="translate(666.58 412.40) scale(1.0153 1)" font-size="26.80" fill="#3c3c3c">4.932</text>
<text transform="translate(1017.78 307.60) scale(1.0103 1)" font-size="26.80" fill="#3c3c3c">4.945</text>
<text transform="translate(1373.38 160.40) scale(1.0122 1)" font-size="26.80" fill="#3c3c3c">4.940</text>
<line x1="1418.1" y1="179.4" x2="1418.1" y2="194.8" stroke="#1a1a1a" stroke-width="2.2"/>
</g>
<text transform="translate(660.52 374.00) scale(0.8606 1)" font-size="45.00" fill="#161616" stroke="#fff" stroke-width="0.7">LOD</text>
<text transform="translate(1018.40 261.40) scale(0.8668 1)" font-size="45.00" fill="#161616" stroke="#fff" stroke-width="0.7">LLOQ</text>
<g filter="url(#sf2)">
<defs><filter id="sf2" x="-1%" y="-1%" width="102%" height="102%"><feGaussianBlur stdDeviation="0.3"/></filter></defs>
<line x1="523" y1="1142.1" x2="1494" y2="1142.1" stroke="#efefef" stroke-width="1.3"/>
<line x1="665.0" y1="1083.0" x2="1486.8" y2="752.2" stroke="#4a4aff" stroke-width="1.35"/>
<clipPath id="cpl"><rect x="655" y="730" width="840" height="352.20"/></clipPath>
<g clip-path="url(#cpl)" fill="#0404f6">
<circle cx="665.6" cy="1081.8" r="4.9"/>
<circle cx="667.6" cy="1081.2" r="4.9"/>
<circle cx="674.7" cy="1079.5" r="4.9"/>
<circle cx="748.1" cy="1049.5" r="4.9"/>
<circle cx="1479.9" cy="745.0" r="4.9"/>
<circle cx="1479.9" cy="754.6" r="4.9"/>
<circle cx="1479.9" cy="762.6" r="4.9"/>
</g>
<line x1="653.80" y1="1082.20" x2="1486.60" y2="1082.20" stroke="#777" stroke-width="1.8"/>
<line x1="658.80" y1="744.4" x2="658.80" y2="1082.20" stroke="#262626" stroke-width="1.25"/>
<path d="M654.00 1015.60H658.80M654.00 950.20H658.80M654.00 884.80H658.80M654.00 819.40H658.80M654.00 754.00H658.80M656.40 1048.30H658.80M656.40 982.90H658.80M656.40 917.50H658.80M656.40 852.10H658.80M656.40 786.70H658.80" fill="none" stroke="#5a5a5a" stroke-width="1.2"/>
<path d="M666.90 1082.20V1084.80M707.52 1082.20V1084.80M748.15 1082.20V1087.00M788.77 1082.20V1084.80M829.40 1082.20V1087.00M870.02 1082.20V1084.80M910.65 1082.20V1087.00M951.27 1082.20V1084.80M991.90 1082.20V1087.00M1032.53 1082.20V1084.80M1073.15 1082.20V1087.00M1113.78 1082.20V1084.80M1154.40 1082.20V1087.00M1195.03 1082.20V1084.80M1235.65 1082.20V1087.00M1276.28 1082.20V1084.80M1316.90 1082.20V1087.00M1357.53 1082.20V1084.80M1398.15 1082.20V1087.00M1438.78 1082.20V1084.80M1479.40 1082.20V1084.80" fill="none" stroke="#333" stroke-width="1.25"/>
<text transform="translate(614.05 1086.90) scale(0.9735 1)" font-size="19.70" fill="#2e2e2e">0e0</text>
<text transform="translate(613.29 1021.50) scale(1.0040 1)" font-size="19.70" fill="#2e2e2e">1e7</text>
<text transform="translate(613.82 956.10) scale(0.9875 1)" font-size="19.70" fill="#2e2e2e">2e7</text>
<text transform="translate(614.06 890.70) scale(0.9798 1)" font-size="19.70" fill="#2e2e2e">3e7</text>
<text transform="translate(614.36 825.30) scale(0.9705 1)" font-size="19.70" fill="#2e2e2e">4e7</text>
<text transform="translate(614.03 759.90) scale(0.9811 1)" font-size="19.70" fill="#2e2e2e">5e7</text>
<text transform="translate(736.11 1106.80) scale(1.0233 1)" font-size="19.70" fill="#2e2e2e">10</text>
<text transform="translate(817.91 1106.80) scale(0.9974 1)" font-size="19.70" fill="#2e2e2e">20</text>
<text transform="translate(899.41 1106.80) scale(0.9857 1)" font-size="19.70" fill="#2e2e2e">30</text>
<text transform="translate(980.96 1106.80) scale(0.9714 1)" font-size="19.70" fill="#2e2e2e">40</text>
<text transform="translate(1061.87 1106.80) scale(0.9875 1)" font-size="19.70" fill="#2e2e2e">50</text>
<text transform="translate(1142.90 1106.80) scale(0.9979 1)" font-size="19.70" fill="#2e2e2e">60</text>
<text transform="translate(1224.14 1106.80) scale(0.9984 1)" font-size="19.70" fill="#2e2e2e">70</text>
<text transform="translate(1305.55 1106.80) scale(0.9908 1)" font-size="19.70" fill="#2e2e2e">80</text>
<text transform="translate(1386.73 1106.80) scale(0.9941 1)" font-size="19.70" fill="#2e2e2e">90</text>
<text transform="translate(546.20 931.34) rotate(-90) scale(0.8414 1)" font-size="21.40" fill="#2e2e2e">Area</text>
<text transform="translate(969.35 1133.60) scale(1.0693 1)" font-size="19.30" fill="#2e2e2e">Concentration</text>
<text transform="translate(1102.68 1133.60) scale(1.1014 1)" font-size="19.30" fill="#2e2e2e">(ug/mL)</text>
<g>
<text transform="translate(525.03 723.20) scale(1.1500 1)" font-size="18.40" fill="#2e2e2e">Calibration for</text>
<text transform="translate(661.29 723.20) scale(0.9483 1)" font-size="18.40" fill="#2e2e2e">IYPTNGYTR_1:</text>
<text transform="translate(789.95 723.20) scale(1.0631 1)" font-size="18.40" fill="#2e2e2e">y = 4.97827e5 x + -3659.15883</text>
<text transform="translate(1068.28 723.20) scale(1.0696 1)" font-size="18.40" fill="#2e2e2e">(r = 0.99972, r² = 0.99944)</text>
<text transform="translate(1311.80 723.20) scale(1.1424 1)" font-size="18.40" fill="#2e2e2e">(weighting: 1 / x)</text>
</g>
</g>
<g>
<text transform="translate(672.50 777.40) scale(0.8420 1)" font-size="35.40" fill="#141414" stroke="#fff" stroke-width="0.5">LDR</text>
<text transform="translate(741.67 777.40) scale(0.9969 1)" font-size="35.40" fill="#141414" stroke="#fff" stroke-width="0.5">of</text>
<text transform="translate(778.99 777.40) scale(0.9310 1)" font-size="35.40" fill="#141414" stroke="#fff" stroke-width="0.5">3.9</text>
<text transform="translate(834.63 777.40) scale(0.9552 1)" font-size="35.40" fill="#141414" stroke="#fff" stroke-width="0.5">orders</text>
<text transform="translate(940.09 777.40) scale(0.9826 1)" font-size="35.40" fill="#141414" stroke="#fff" stroke-width="0.5">of</text>
<text transform="translate(977.24 777.40) scale(0.9833 1)" font-size="35.40" fill="#141414" stroke="#fff" stroke-width="0.5">magnitude</text>
</g>
</svg>
</body></html>
